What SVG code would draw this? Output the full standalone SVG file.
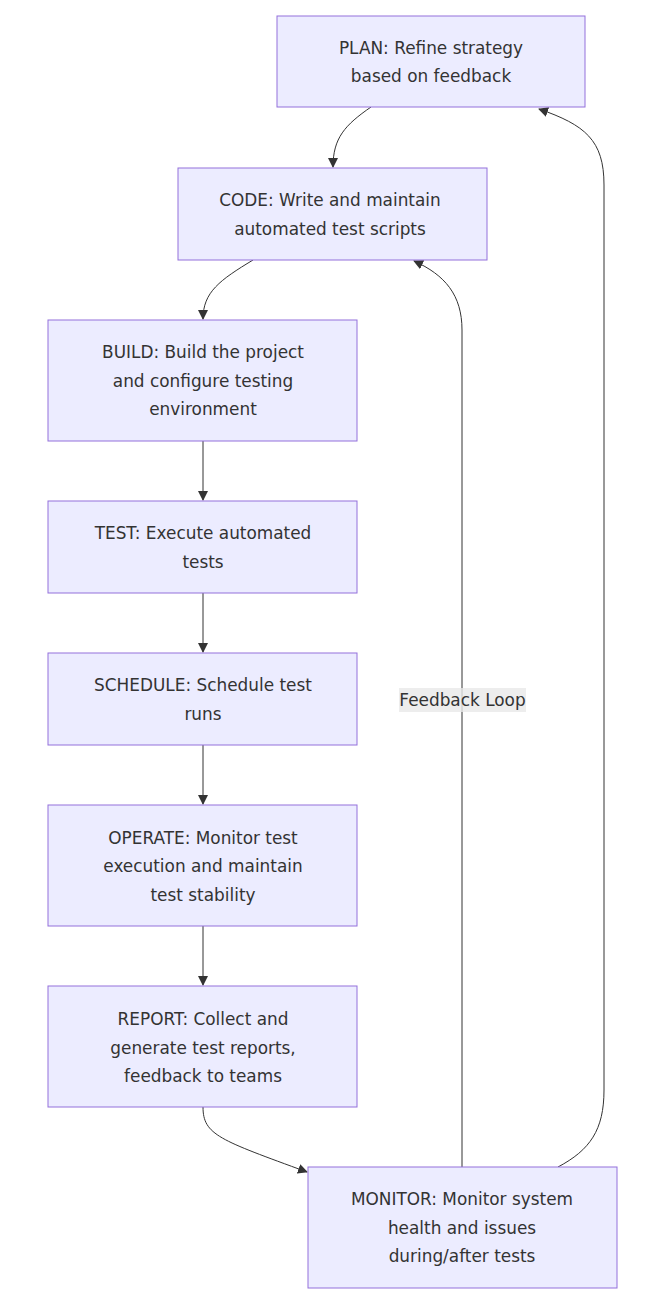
<svg xmlns="http://www.w3.org/2000/svg" width="658" height="1306" viewBox="0 0 658 1306">
<style>
.node rect{fill:#ECECFF;stroke:#9370DB;stroke-width:1}
text{font-family:"DejaVu Sans",sans-serif;font-size:16.9px;fill:#333;text-anchor:middle;dominant-baseline:central}
.edge{fill:none;stroke:#333;stroke-width:1}
</style>
<defs>
<marker id="arrow" viewBox="0 0 10 10" refX="9" refY="5" markerWidth="10" markerHeight="10" orient="auto" markerUnits="userSpaceOnUse">
<path d="M0,0 L10,5 L0,10 z" fill="#333"/>
</marker>
</defs>
<rect width="658" height="1306" fill="#fff"/>
<g id="connectors">
<path class="edge" marker-end="url(#arrow)" d="M371,107 C345,125 333,138 333,167"/>
<path class="edge" marker-end="url(#arrow)" d="M253,260 C220,280 203,292 203,319"/>
<path class="edge" marker-end="url(#arrow)" d="M203,441 L203,500"/>
<path class="edge" marker-end="url(#arrow)" d="M203,593 L203,652"/>
<path class="edge" marker-end="url(#arrow)" d="M203,745 L203,804"/>
<path class="edge" marker-end="url(#arrow)" d="M203,926 L203,985"/>
<path class="edge" marker-end="url(#arrow)" d="M203,1107 C203,1135 220,1140 307,1172"/>
<path class="edge" marker-end="url(#arrow)" d="M462,1167 L462,330 C462,295 445,275 414,261"/>
<path class="edge" marker-end="url(#arrow)" d="M558,1167 C590,1150 604,1130 604,1090 L604,185 C604,140 585,125 539,109"/>
<g id="label-feedback">
<rect x="399" y="688" width="127" height="24" fill="#e8e8e8" fill-opacity="0.8"/>
<text x="462.5" y="700">Feedback Loop</text>
</g>
</g>
<g id="plan" class="node"><rect x="277" y="16" width="308" height="91"/><text x="431" y="48">PLAN: Refine strategy</text><text x="431" y="76">based on feedback</text></g>
<g id="code" class="node"><rect x="178" y="168" width="309" height="92"/><text x="330" y="200">CODE: Write and maintain</text><text x="330" y="229">automated test scripts</text></g>
<g id="build" class="node"><rect x="48" y="320" width="309" height="121"/><text x="203" y="352">BUILD: Build the project</text><text x="203" y="381">and configure testing</text><text x="203" y="409">environment</text></g>
<g id="test" class="node"><rect x="48" y="501" width="309" height="92"/><text x="203" y="533">TEST: Execute automated</text><text x="203" y="562">tests</text></g>
<g id="schedule" class="node"><rect x="48" y="653" width="309" height="92"/><text x="203" y="685">SCHEDULE: Schedule test</text><text x="203" y="714">runs</text></g>
<g id="operate" class="node"><rect x="48" y="805" width="309" height="121"/><text x="203" y="838">OPERATE: Monitor test</text><text x="203" y="866">execution and maintain</text><text x="203" y="895">test stability</text></g>
<g id="report" class="node"><rect x="48" y="986" width="309" height="121"/><text x="203" y="1019">REPORT: Collect and</text><text x="203" y="1048">generate test reports,</text><text x="203" y="1076">feedback to teams</text></g>
<g id="monitor" class="node"><rect x="308" y="1167" width="309" height="121"/><text x="462" y="1199">MONITOR: Monitor system</text><text x="462" y="1228">health and issues</text><text x="462" y="1256">during/after tests</text></g>
</svg>
